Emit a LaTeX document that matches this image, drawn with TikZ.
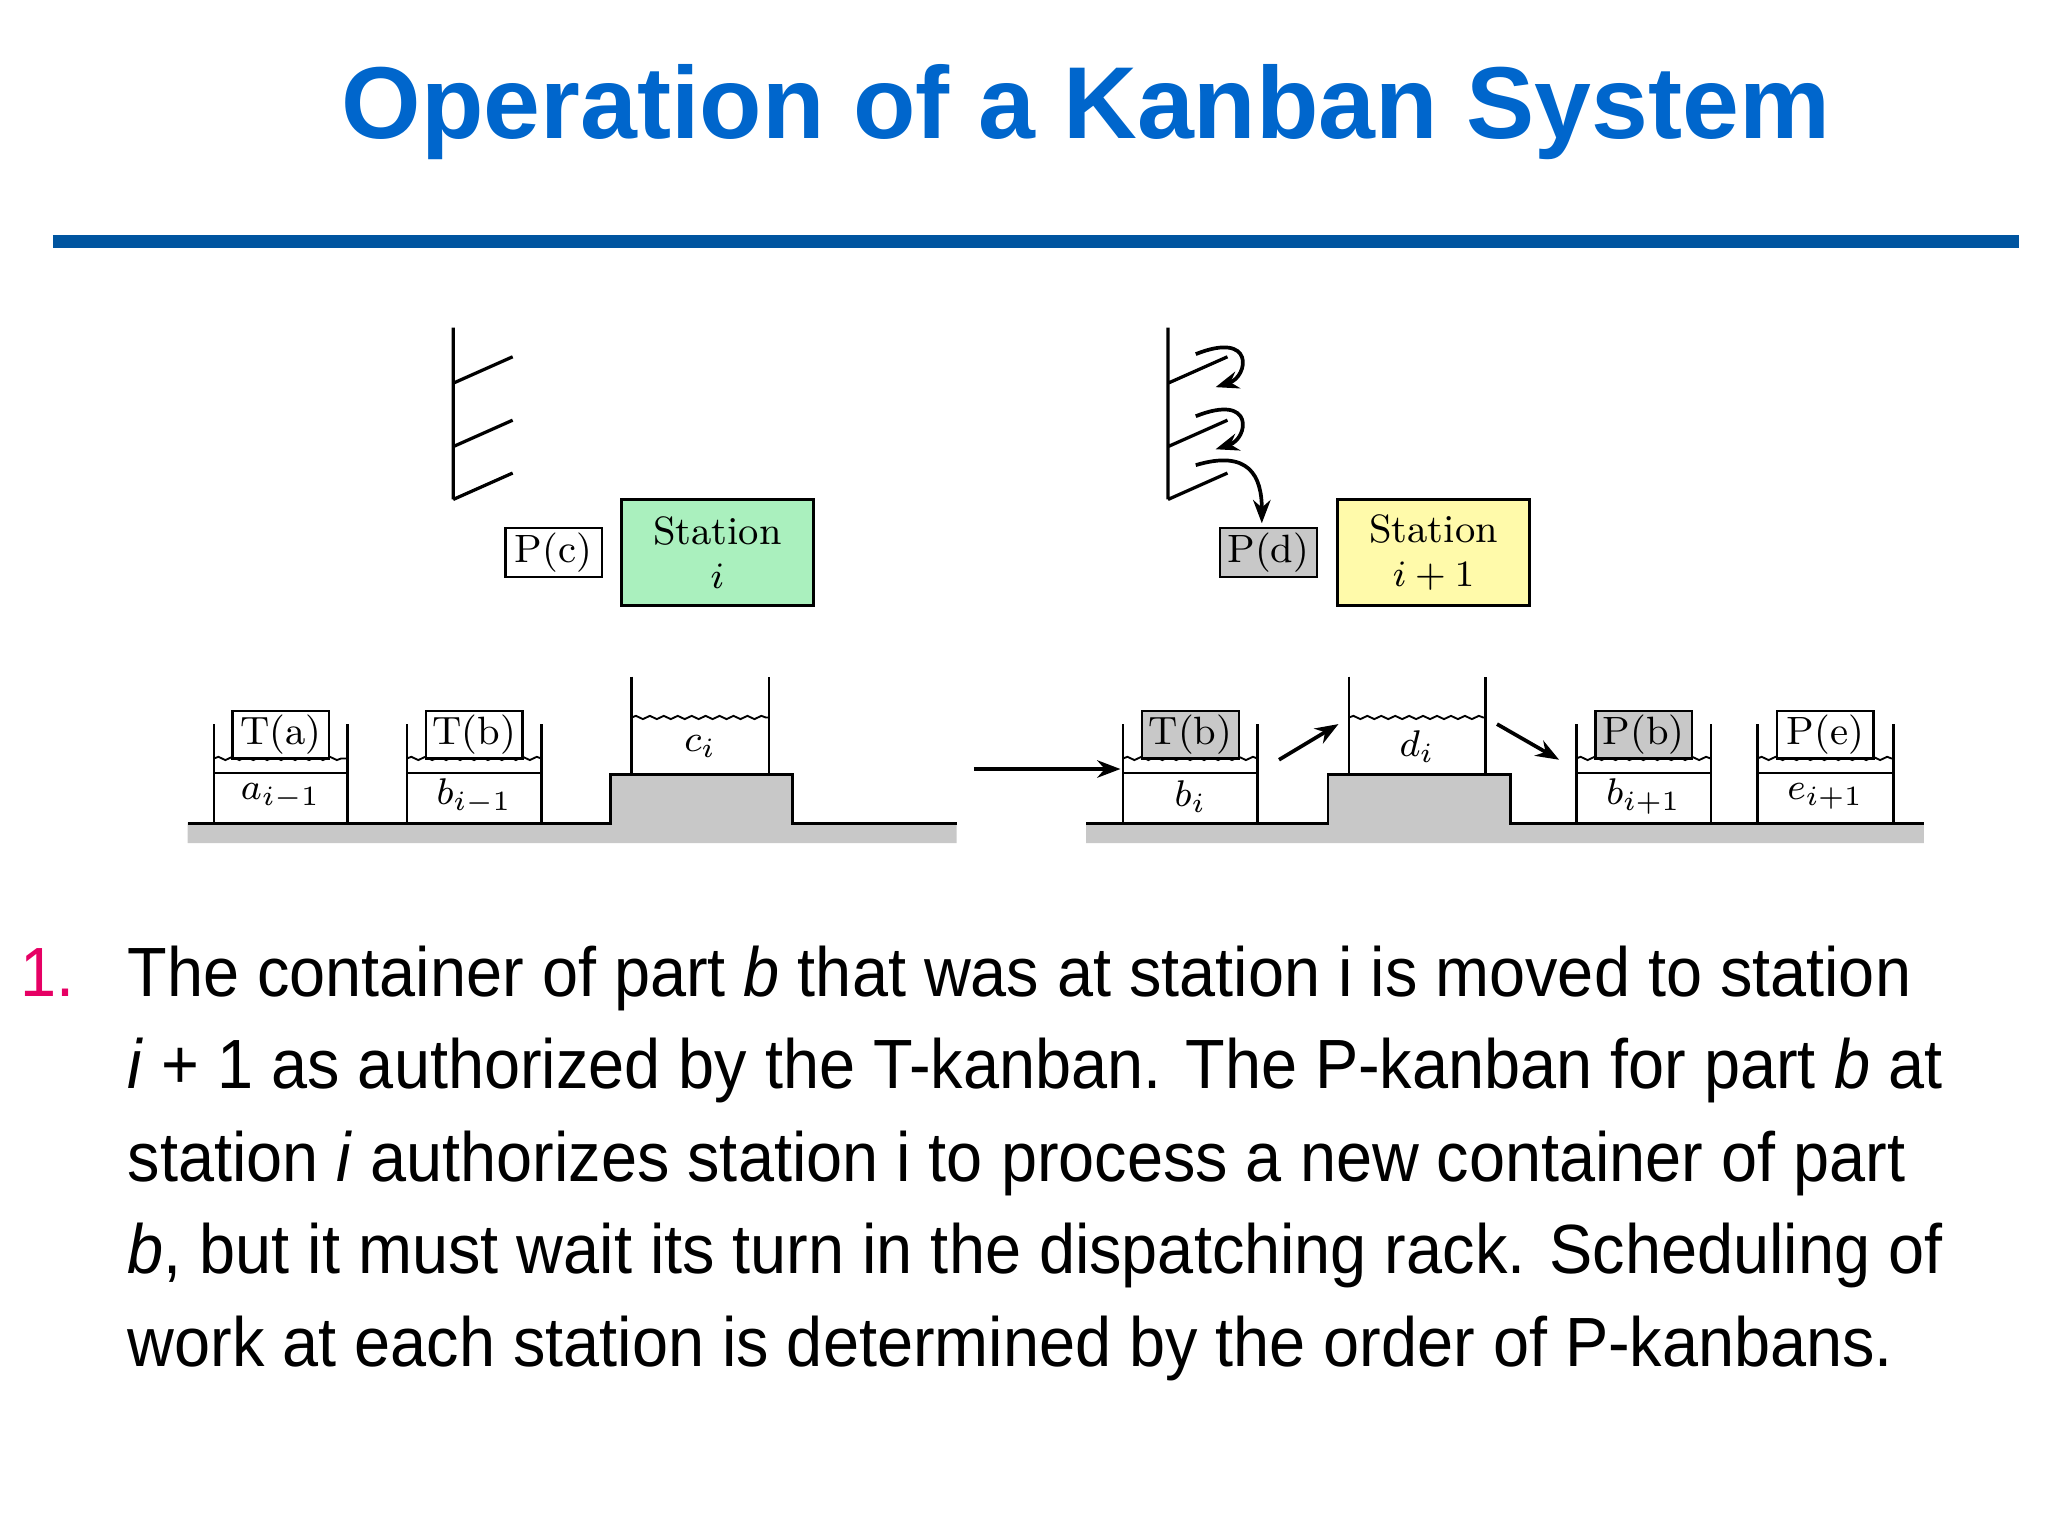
\documentclass[tikz,border=0pt]{standalone}
\usepackage{fontspec}
\setsansfont{Liberation Sans}
\newfontfamily\bodyfont[FakeStretch=0.93]{Liberation Sans}
\usetikzlibrary{decorations.pathmorphing,arrows.meta}
\definecolor{ttl}{RGB}{0,102,204}
\definecolor{rule}{RGB}{0,85,160}
\definecolor{stg}{RGB}{170,240,190}
\definecolor{sty}{RGB}{255,250,170}
\definecolor{kg}{RGB}{200,200,200}
\definecolor{flr}{RGB}{200,200,200}
\definecolor{pink}{RGB}{230,0,100}
\tikzset{
 kb/.style={draw,line width=0.5pt,minimum width=0.73cm,minimum height=0.36cm,inner sep=0pt,font=\fontsize{8.5}{9}\selectfont},
 stbox/.style={draw,line width=0.6pt,minimum width=1.45cm,minimum height=0.8cm,inner sep=0pt,align=center,font=\fontsize{8.5}{9.5}\selectfont},
 wav/.style={decorate,decoration={snake,amplitude=0.35pt,segment length=3pt},line width=0.4pt},
 cont/.style={line width=0.6pt},
 arr/.style={-{Stealth[length=5pt]},line width=0.8pt},
 body/.style={anchor=base west,inner sep=0pt,font=\bodyfont\fontsize{15}{18}\selectfont},
 lbl/.style={font=\fontsize{8.5}{9}\selectfont}
}
\begin{document}
\begin{tikzpicture}[x=0.01cm,y=-0.01cm]
\useasboundingbox (0,0) rectangle (1550,1162);
\node[font=\sffamily\bfseries\fontsize{22}{26}\selectfont,text=ttl] (title) at (822,85) {Operation of a Kanban System};
\draw[rule,line width=0.1cm] (40,183) -- (1528,183);
% floors
\fill[flr] (142,623) -- (462,623) -- (462,586) -- (600,586) -- (600,623) -- (724,623) -- (724,638) -- (142,638) -- cycle;
\fill[flr] (822,623) -- (1005,623) -- (1005,586) -- (1143,586) -- (1143,623) -- (1456,623) -- (1456,638) -- (822,638) -- cycle;
\draw[line width=0.6pt] (142,623) -- (462,623) -- (462,586) -- (600,586) -- (600,623) -- (724,623);
\draw[line width=0.6pt] (822,623) -- (1005,623) -- (1005,586) -- (1143,586) -- (1143,623) -- (1456,623);
% racks
\draw[line width=0.7pt] (343,248) -- (343,378) (343,378) -- (388,358) (343,338) -- (388,318) (343,290) -- (388,270);
\draw[line width=0.7pt] (884,248) -- (884,378) (884,378) -- (929,358) (884,338) -- (929,318) (884,290) -- (929,270);
\draw[arr] (905,268) .. controls (950,250) and (945,285) .. (920,293);
\draw[arr] (905,315) .. controls (950,297) and (945,332) .. (920,340);
\draw[arr] (905,352) .. controls (945,340) and (955,360) .. (955,396);
% stations
\node[kb,minimum height=0.37cm] (pc) at (419,418) {P(c)};
\node[stbox,fill=stg] (si) at (543,418) {Station\\ $i$};
\node[kb,fill=kg,minimum height=0.37cm] (pd) at (960,418) {P(d)};
\node[stbox,fill=sty] (si1) at (1085,418) {Station\\ $i+1$};
% containers
\foreach \xa/\xb/\k/\kf/\lab in {162/263/T(a)/white/a_{i-1}, 308/410/T(b)/white/b_{i-1}, 850/952/T(b)/kg/b_i, 1193/1295/P(b)/kg/b_{i+1}, 1330/1433/P(e)/white/e_{i+1}}{
 \draw[cont] (\xa,548) -- (\xa,623) -- (\xb,623) -- (\xb,548);
 \draw[cont] (\xa,585) -- (\xb,585);
 \draw[wav] (\xa,574) -- (\xb,574);
 \node[kb,fill=\kf] at ({(\xa+\xb)/2},556) {\k};
 \node[lbl] at ({(\xa+\xb)/2},603) {$\lab$};
}
\foreach \xa/\xb/\lab in {478/582/c_i, 1021/1124/d_i}{
 \draw[cont] (\xa,512) -- (\xa,586) (\xb,586) -- (\xb,512);
 \draw[wav] (\xa,543) -- (\xb,543);
 \node[lbl] at ({(\xa+\xb)/2},565) {$\lab$};
}
\coordinate (a1) at (737,582); \coordinate (a2) at (848,582);
\draw[arr] (a1) -- (a2);
\coordinate (b1) at (968,575); \coordinate (b2) at (1013,548);
\draw[arr] (b1) -- (b2);
\coordinate (c1) at (1133,548); \coordinate (c2) at (1180,575);
\draw[arr] (c1) -- (c2);
% text
\node[body,text=pink] (n1) at (15,754) {1.};
\node[body] (l1) at (96,754) {The container of part \textit{b} that was at station i is moved to station};
\node[body] (l2) at (96,824) {\textit{i} + 1 as authorized by the T-kanban. The P-kanban for part \textit{b} at};
\node[body] (l3) at (96,894) {station \textit{i} authorizes station i to process a new container of part};
\node[body] (l4) at (96,964) {\textit{b}, but it must wait its turn in the dispatching rack. Scheduling of};
\node[body] (l5) at (96,1034) {work at each station is determined by the order of P-kanbans.};
\end{tikzpicture}
\end{document}
